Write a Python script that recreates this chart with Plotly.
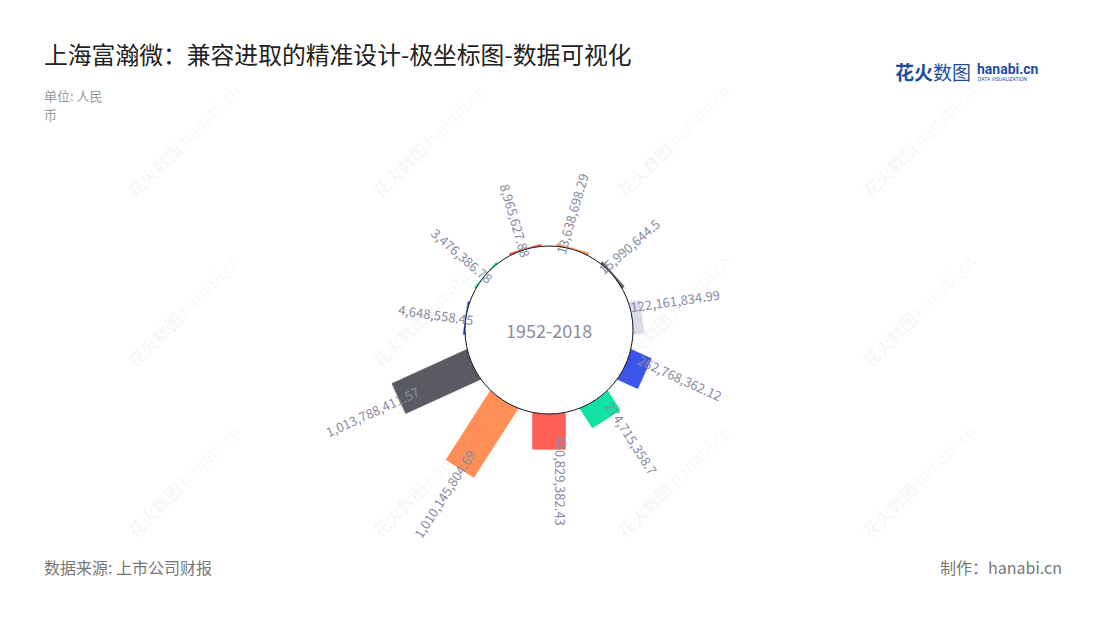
import math
import plotly.graph_objects as go

# ---------------- data ----------------
values = [13638698.29, 15990644.5, 122161834.99, 262768362.12, 274715358.7,
          440829382.43, 1010145804.69, 1013788411.57, 4648558.45, 3476386.78,
          8965627.88]
colors = ["#FF8F57", "#5A5A64", "#D8DBEA", "#3A55E8", "#12E2A3", "#FF5F57",
          "#FF8F57", "#5A5A64", "#3A55E8", "#12E2A3", "#FF5F57"]
center_label = "1952-2018"
title_text = "上海富瀚微：兼容进取的精准设计-极坐标图-数据可视化"
unit_lines = ["单位: 人民", "币"]
source_text = "数据来源: 上市公司财报"
maker_text = "制作：hanabi.cn"

# ---------------- geometry / style ----------------
PAGE_OFF = 8                       # default page body margin
FIG_W, FIG_H = 1100 - PAGE_OFF, 620 - PAGE_OFF
RMAX = 1.2e9
R_PX = 180.0       # outer radius of polar area (px)
HOLE_PX = 84.0     # inner hole radius (px)
CX, CY = 549.0, 330.0   # centre in window pixels
HALF_W = 16.5      # half bar width (px)
LABEL_FS = 13
LABEL_COLOR = "#8A8AA3"
FONT = "Noto Sans CJK SC"


def px(x, y):
    """window pixel -> paper coords"""
    return (x - PAGE_OFF) / FIG_W, 1 - (y - PAGE_OFF) / FIG_H


x0p, y1p = px(CX - R_PX, CY - R_PX)
x1p, y0p = px(CX + R_PX, CY + R_PX)
dom_x = [x0p, x1p]
dom_y = [y0p, y1p]
scale = (R_PX - HOLE_PX) / RMAX

fig = go.Figure()
n = len(values)
step = 360.0 / n
annotations = []

# watermarks
for wx in [183, 428, 673, 918]:
    for wy in [140, 310, 480]:
        x, y = px(wx, wy)
        annotations.append(dict(
            x=x, y=y, xref="paper", yref="paper",
            text="<b>花火数图</b> hanabi.cn", showarrow=False, textangle=-45,
            font=dict(family=FONT, size=17, color="rgba(0,0,0,0.045)"),
            xanchor="center", yanchor="middle"))

for i, (v, c) in enumerate(zip(values, colors)):
    th = (i + 0.5) * step
    L = v * scale
    a_in = math.sqrt(HOLE_PX ** 2 - HALF_W ** 2)
    a_out = HOLE_PX + L
    corners = [(a_in, -HALF_W), (a_in, HALF_W), (a_out, HALF_W),
               (a_out, -HALF_W), (a_in, -HALF_W)]
    rs, ths = [], []
    for a, l in corners:
        rho = math.hypot(a, l)
        phi = th + math.degrees(math.atan2(l, a))
        rs.append(max(0.0, (rho - HOLE_PX) / (R_PX - HOLE_PX) * RMAX))
        ths.append(phi)
    fig.add_trace(go.Scatterpolar(
        r=rs, theta=ths, mode="lines", fill="toself", fillcolor=c,
        line=dict(color=c, width=0.6), hoverinfo="skip", showlegend=False))

    # label
    txt = f"{v:,}"
    nd = sum(ch.isdigit() for ch in txt)
    npunct = len(txt) - nd
    tlen = LABEL_FS * (0.5 * nd + 0.25 * npunct)
    start = HOLE_PX - 4 + 0.85 * L
    along = start + tlen / 2
    flipped = th > 180
    lat = 1 if flipped else 11
    t = math.radians(th)
    ux, uy = math.sin(t), -math.cos(t)          # radial direction (screen)
    ccx, ccy = -math.cos(t), -math.sin(t)       # counter-clockwise tangent
    sx = CX + along * ux + lat * ccx
    sy = CY + along * uy + lat * ccy
    ang = th - 270 if flipped else th - 90
    x, y = px(sx, sy)
    annotations.append(dict(
        x=x, y=y, xref="paper", yref="paper",
        text=txt, showarrow=False, textangle=ang,
        font=dict(family=FONT, size=LABEL_FS, color=LABEL_COLOR),
        xanchor="center", yanchor="middle"))

pcx = (dom_x[0] + dom_x[1]) / 2
pcy = (dom_y[0] + dom_y[1]) / 2

annotations.append(dict(
    x=pcx, y=pcy, xref="paper", yref="paper", text=center_label, showarrow=False,
    font=dict(family=FONT, size=18, color="#8C8CA0"), xanchor="center", yanchor="middle"))


def txt_ann(xr, yr, text, size, color, xanchor="left", family=FONT):
    x, y = px(xr, yr)
    return dict(x=x, y=y, xref="paper", yref="paper", text=text, showarrow=False,
                xanchor=xanchor, yanchor="middle",
                font=dict(family=family, size=size, color=color))


annotations += [
    txt_ann(42, 54, title_text, 23.8, "#222222"),
    txt_ann(42, 96, unit_lines[0], 13, "#999999"),
    txt_ann(42, 114, unit_lines[1], 13, "#999999"),
    txt_ann(42, 567, source_text, 16, "#777777"),
    txt_ann(1064, 567, maker_text, 16, "#777777", xanchor="right"),
    txt_ann(893, 72, "<b>花火</b>数图", 19, "#1E4D9E"),
    txt_ann(975, 69, "<b>hanabi.cn</b>", 14, "#1E4D9E", family="Roboto"),
    txt_ann(976, 79, "DATA VISUALIZATION", 5, "#1E4D9E", family="Roboto"),
]

fig.update_layout(
    width=FIG_W, height=FIG_H,
    margin=dict(l=0, r=0, t=0, b=0),
    paper_bgcolor="white", plot_bgcolor="white",
    showlegend=False,
    polar=dict(
        domain=dict(x=dom_x, y=dom_y),
        hole=HOLE_PX / R_PX,
        bgcolor="rgba(0,0,0,0)",
        radialaxis=dict(range=[0, RMAX], visible=False, showgrid=False),
        angularaxis=dict(type="linear", visible=False, rotation=90,
                         direction="clockwise", thetaunit="degrees", showgrid=False),
    ),
    shapes=[dict(type="circle", xref="paper", yref="paper",
                 xsizemode="pixel", ysizemode="pixel",
                 xanchor=pcx, yanchor=pcy,
                 x0=-HOLE_PX, x1=HOLE_PX, y0=-HOLE_PX, y1=HOLE_PX,
                 line=dict(color="#111111", width=1), fillcolor="white", layer="above")],
    annotations=annotations,
)

fig.write_html("out.html")
